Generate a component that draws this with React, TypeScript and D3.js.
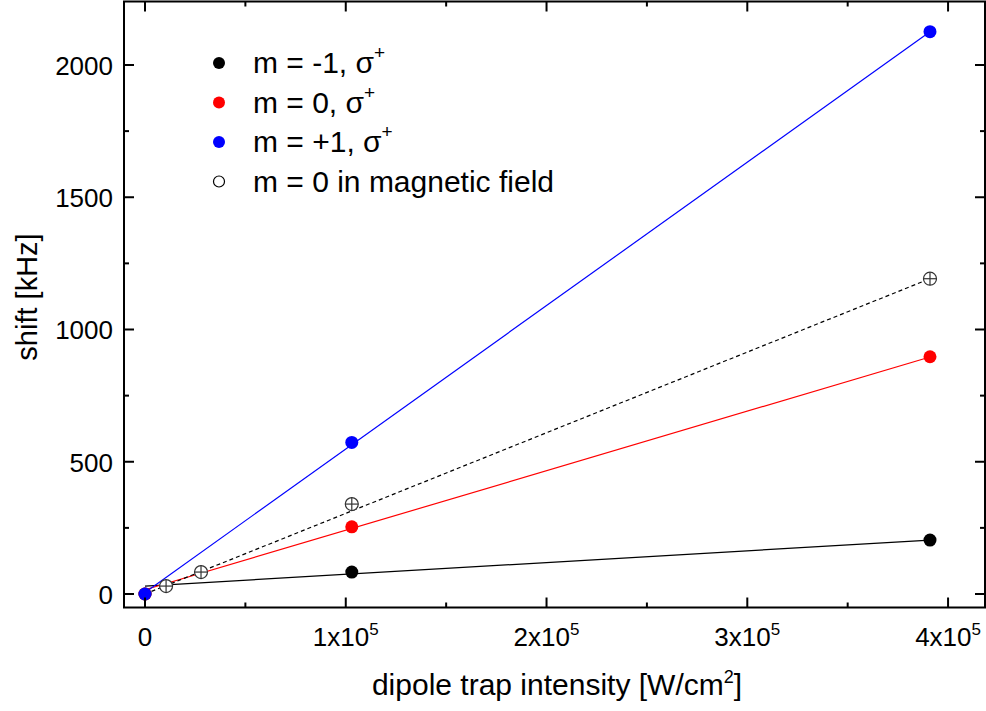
import React, { useEffect, useRef } from 'react';
import * as d3 from 'd3';

// measured values (intensity in W/cm^2, shift in kHz)
const intensity = [0, 103000, 391000];
const shiftMinus1 = [0, 83, 204];
const shiftZero = [0, 254, 897];
const shiftPlus1 = [0, 573, 2126];

const fieldIntensity = [10500, 27900, 103000, 391000];
const fieldShift = [30, 83, 340, 1192];

// linear fits: shift = intercept + slope * intensity
const fitIntercepts = [30, 16, 6, 0];
const fitSlopes = [174 / 391000, 880 / 391000, 2120 / 391000, 1192 / 391000];
const fitRange = [0, 391000];

const xTicks = [0, 100000, 200000, 300000, 400000];
const xMinorTicks = [50000, 150000, 250000, 350000];
const yTicks = [0, 500, 1000, 1500, 2000];
const yMinorTicks = [250, 750, 1250, 1750];

const legendLabels = ['m = -1, σ', 'm = 0, σ', 'm = +1, σ', 'm = 0 in magnetic field'];
const seriesColors = ['#000000', '#ff0000', '#0000ff'];

const W = 986;
const H = 711;
const FONT = '"Liberation Sans", Arial, sans-serif';

function App() {
  const svgRef = useRef<SVGSVGElement>(null);

  useEffect(() => {
    const svg = d3.select(svgRef.current);
    svg.selectAll('*').remove();

    const left = 124, right = 985, top = 1.5, bottom = 607.5;

    const x = d3.scaleLinear().domain([-10460, 418400]).range([left, right]);
    const y = d3.scaleLinear().domain([-51, 2240]).range([bottom, top]);

    const g = svg.append('g');

    // fit lines
    const lineColors = ['#000000', '#ff0000', '#0000ff', '#000000'];
    fitIntercepts.forEach((b, i) => {
      const pts = fitRange.map(v => [v, b + fitSlopes[i] * v] as [number, number]);
      g.append('path')
        .attr('d', d3.line<[number, number]>().x(d => x(d[0])).y(d => y(d[1]))(pts))
        .attr('fill', 'none')
        .attr('stroke', lineColors[i])
        .attr('stroke-width', 1.2)
        .attr('stroke-dasharray', i === 3 ? '4,3' : null);
    });

    // open markers (crossed circles)
    fieldIntensity.forEach((v, i) => {
      const cx = x(v), cy = y(fieldShift[i]);
      g.append('circle').attr('cx', cx).attr('cy', cy).attr('r', 6.5)
        .attr('fill', 'white').attr('stroke', '#333').attr('stroke-width', 1.2);
      g.append('line').attr('x1', cx - 6.5).attr('x2', cx + 6.5).attr('y1', cy).attr('y2', cy)
        .attr('stroke', '#333').attr('stroke-width', 1.2);
      g.append('line').attr('x1', cx).attr('x2', cx).attr('y1', cy - 6.5).attr('y2', cy + 6.5)
        .attr('stroke', '#333').attr('stroke-width', 1.2);
    });

    // filled markers
    [shiftMinus1, shiftZero, shiftPlus1].forEach((s, si) => {
      g.selectAll(null)
        .data(intensity)
        .enter()
        .append('circle')
        .attr('cx', d => x(d))
        .attr('cy', (d, i) => y(s[i]))
        .attr('r', 6.5)
        .attr('fill', seriesColors[si]);
    });

    // frame
    g.append('rect')
      .attr('x', left).attr('y', top)
      .attr('width', right - left).attr('height', bottom - top)
      .attr('fill', 'none').attr('stroke', '#000').attr('stroke-width', 2);

    // ticks, pointing inwards on all four sides
    const tick = (x1: number, y1: number, x2: number, y2: number) =>
      g.append('line').attr('x1', x1).attr('y1', y1).attr('x2', x2).attr('y2', y2)
        .attr('stroke', '#000').attr('stroke-width', 2);

    xTicks.forEach(v => { tick(x(v), bottom, x(v), bottom - 10); tick(x(v), top, x(v), top + 10); });
    xMinorTicks.forEach(v => { tick(x(v), bottom, x(v), bottom - 5); tick(x(v), top, x(v), top + 5); });
    yTicks.forEach(v => { tick(left, y(v), left + 10, y(v)); tick(right, y(v), right - 10, y(v)); });
    yMinorTicks.forEach(v => { tick(left, y(v), left + 5, y(v)); tick(right, y(v), right - 5, y(v)); });

    // tick labels
    yTicks.forEach(v => {
      g.append('text')
        .attr('x', left - 11).attr('y', y(v) + 10)
        .attr('text-anchor', 'end')
        .attr('font-size', 26).attr('font-family', FONT)
        .text(v);
    });

    xTicks.forEach(v => {
      const t = g.append('text')
        .attr('x', x(v)).attr('y', 646)
        .attr('text-anchor', 'middle')
        .attr('font-size', 26).attr('font-family', FONT);
      if (v === 0) {
        t.text('0');
      } else {
        t.append('tspan').text(`${v / 100000}x10`);
        t.append('tspan').attr('font-size', 17).attr('dy', -11).text('5');
      }
    });

    // axis titles
    const xt = g.append('text')
      .attr('x', 557).attr('y', 695)
      .attr('text-anchor', 'middle')
      .attr('font-size', 30).attr('font-family', FONT);
    xt.append('tspan').text('dipole trap intensity [W/cm');
    xt.append('tspan').attr('font-size', 18).attr('dy', -12).text('2');
    xt.append('tspan').attr('dy', 12).text(']');

    g.append('text')
      .attr('transform', `translate(37, 297) rotate(-90)`)
      .attr('text-anchor', 'middle')
      .attr('font-size', 29).attr('font-family', FONT)
      .text('shift [kHz]');

    // legend
    legendLabels.forEach((label, i) => {
      const ly = 63 + i * 39.5;
      if (i < 3) {
        g.append('circle').attr('cx', 219).attr('cy', ly).attr('r', 6).attr('fill', seriesColors[i]);
      } else {
        g.append('circle').attr('cx', 219).attr('cy', ly).attr('r', 5.5)
          .attr('fill', 'white').attr('stroke', '#000').attr('stroke-width', 1.2);
      }
      const t = g.append('text')
        .attr('x', 253).attr('y', ly + 10)
        .attr('font-size', 30).attr('font-family', FONT);
      t.append('tspan').text(label);
      if (i < 3) t.append('tspan').attr('font-size', 19).attr('dy', -14).text('+');
    });
  }, []);

  return (
    <svg
      ref={svgRef}
      width={W}
      height={H}
      style={{ position: 'absolute', left: 0, top: 0, background: '#fff' }}
    />
  );
}

export default App;
